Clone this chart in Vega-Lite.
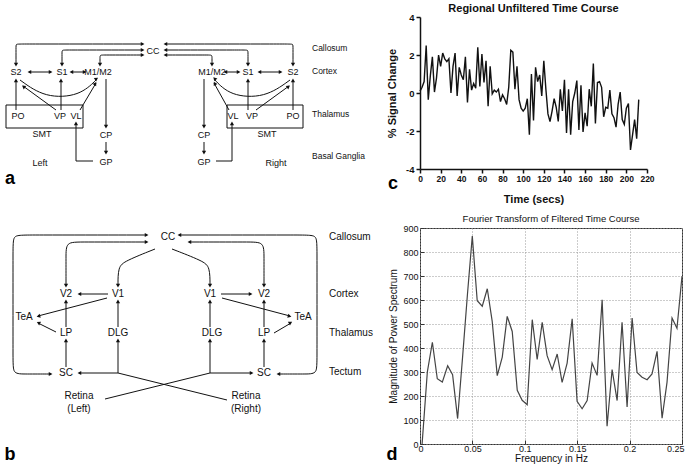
{
"$schema": "https://vega.github.io/schema/vega-lite/v6.json",
"background": "white",
"padding": {"left": 0, "top": 3, "right": 0, "bottom": 0},
"config": {"font": "Liberation Sans", "view": {"stroke": null}},
"bounds": "flush",
"spacing": 35,
"datasets": {
"lab": [
{"t":"CC","x":153,"y":50,"g":"na"},
{"t":"S2","x":16,"y":71,"g":"na"},{"t":"S1","x":62,"y":71,"g":"na"},{"t":"M1/M2","x":98,"y":71,"g":"na"},
{"t":"M1/M2","x":212,"y":71,"g":"na"},{"t":"S1","x":248,"y":71,"g":"na"},{"t":"S2","x":293,"y":71,"g":"na"},
{"t":"PO","x":18,"y":115,"g":"na"},{"t":"VP","x":60,"y":115,"g":"na"},{"t":"VL","x":76,"y":115,"g":"na"},
{"t":"VL","x":233,"y":115,"g":"na"},{"t":"VP","x":252,"y":115,"g":"na"},{"t":"PO","x":293,"y":115,"g":"na"},
{"t":"SMT","x":42,"y":133,"g":"na"},{"t":"SMT","x":267,"y":133,"g":"na"},
{"t":"CP","x":106,"y":134,"g":"na"},{"t":"GP","x":106,"y":161,"g":"na"},
{"t":"CP","x":204,"y":134,"g":"na"},{"t":"GP","x":204,"y":161,"g":"na"},
{"t":"Left","x":40,"y":162,"g":"na"},{"t":"Right","x":276,"y":162,"g":"na"},
{"t":"Callosum","x":312,"y":47,"g":"la"},{"t":"Cortex","x":312,"y":70,"g":"la"},
{"t":"Thalamus","x":312,"y":113,"g":"la"},{"t":"Basal Ganglia","x":312,"y":155,"g":"la"},
{"t":"CC","x":168,"y":236,"g":"nb"},
{"t":"V2","x":66,"y":293,"g":"nb"},{"t":"V1","x":118,"y":293,"g":"nb"},{"t":"V1","x":210,"y":293,"g":"nb"},{"t":"V2","x":264,"y":293,"g":"nb"},
{"t":"TeA","x":24,"y":316,"g":"nb"},{"t":"TeA","x":303,"y":316,"g":"nb"},
{"t":"LP","x":66,"y":332,"g":"nb"},{"t":"DLG","x":118,"y":332,"g":"nb"},{"t":"DLG","x":212,"y":332,"g":"nb"},{"t":"LP","x":264,"y":332,"g":"nb"},
{"t":"SC","x":66,"y":372,"g":"nb"},{"t":"SC","x":264,"y":372,"g":"nb"},
{"t":"Retina","x":79,"y":395,"g":"nb"},{"t":"(Left)","x":79,"y":408,"g":"nb"},
{"t":"Retina","x":246,"y":395,"g":"nb"},{"t":"(Right)","x":246,"y":408,"g":"nb"},
{"t":"Callosum","x":329,"y":236,"g":"lb"},{"t":"Cortex","x":329,"y":293,"g":"lb"},
{"t":"Thalamus","x":329,"y":332,"g":"lb"},{"t":"Tectum","x":329,"y":371,"g":"lb"},
{"t":"a","x":10,"y":178,"g":"L"},{"t":"b","x":10,"y":454,"g":"L"},
{"t":"c","x":393,"y":183,"g":"L"},{"t":"d","x":392,"y":454,"g":"L"}
],
"seg": [
{"p":"a1","i":0,"x":29,"y":71},{"p":"a1","i":1,"x":51,"y":71},
{"p":"a2","i":0,"x":71,"y":71},{"p":"a2","i":1,"x":85,"y":71},
{"p":"a3","i":0,"x":225,"y":71},{"p":"a3","i":1,"x":239,"y":71},
{"p":"a4","i":0,"x":259,"y":71},{"p":"a4","i":1,"x":281,"y":71},
{"p":"a5","i":0,"x":16,"y":109},{"p":"a5","i":1,"x":16,"y":79},
{"p":"a6","i":0,"x":56,"y":109},{"p":"a6","i":1,"x":23,"y":85},
{"p":"a7","i":0,"x":61,"y":109},{"p":"a7","i":1,"x":61,"y":79},
{"p":"a8","i":0,"x":80,"y":109},{"p":"a8","i":1,"x":96,"y":82},
{"p":"a9","i":0,"x":106,"y":78},{"p":"a9","i":1,"x":106,"y":126},
{"p":"a10","i":0,"x":106,"y":141},{"p":"a10","i":1,"x":106,"y":152},
{"p":"a11","i":0,"x":93,"y":160},{"p":"a11","i":1,"x":76,"y":160},{"p":"a11","i":2,"x":76,"y":122},
{"p":"a12","i":0,"x":293,"y":109},{"p":"a12","i":1,"x":293,"y":79},
{"p":"a13","i":0,"x":256,"y":109},{"p":"a13","i":1,"x":289,"y":85},
{"p":"a14","i":0,"x":248,"y":109},{"p":"a14","i":1,"x":248,"y":79},
{"p":"a15","i":0,"x":229,"y":109},{"p":"a15","i":1,"x":214,"y":82},
{"p":"a16","i":0,"x":204,"y":78},{"p":"a16","i":1,"x":204,"y":126},
{"p":"a17","i":0,"x":204,"y":141},{"p":"a17","i":1,"x":204,"y":152},
{"p":"a18","i":0,"x":216,"y":160},{"p":"a18","i":1,"x":232,"y":160},{"p":"a18","i":2,"x":232,"y":122},
{"p":"b1","i":0,"x":108,"y":293},{"p":"b1","i":1,"x":79,"y":293},
{"p":"b2","i":0,"x":221,"y":293},{"p":"b2","i":1,"x":251,"y":293},
{"p":"b3","i":0,"x":107,"y":297},{"p":"b3","i":1,"x":38,"y":315},
{"p":"b4","i":0,"x":222,"y":297},{"p":"b4","i":1,"x":290,"y":315},
{"p":"b5","i":0,"x":66,"y":326},{"p":"b5","i":1,"x":66,"y":300},
{"p":"b6","i":0,"x":264,"y":326},{"p":"b6","i":1,"x":264,"y":300},
{"p":"b7","i":0,"x":56,"y":331},{"p":"b7","i":1,"x":38,"y":322},
{"p":"b8","i":0,"x":274,"y":332},{"p":"b8","i":1,"x":291,"y":322},
{"p":"b9","i":0,"x":66,"y":366},{"p":"b9","i":1,"x":66,"y":339},
{"p":"b10","i":0,"x":264,"y":366},{"p":"b10","i":1,"x":264,"y":339},
{"p":"b11","i":0,"x":118,"y":326},{"p":"b11","i":1,"x":118,"y":300},
{"p":"b12","i":0,"x":210,"y":326},{"p":"b12","i":1,"x":210,"y":300},
{"p":"b13","i":0,"x":105,"y":398},{"p":"b13","i":1,"x":210,"y":372},
{"p":"b14","i":0,"x":210,"y":372},{"p":"b14","i":1,"x":210,"y":339},
{"p":"b15","i":0,"x":210,"y":372},{"p":"b15","i":1,"x":252,"y":372},
{"p":"b16","i":0,"x":227,"y":399},{"p":"b16","i":1,"x":118,"y":372},
{"p":"b17","i":0,"x":118,"y":372},{"p":"b17","i":1,"x":118,"y":339},
{"p":"b18","i":0,"x":118,"y":372},{"p":"b18","i":1,"x":79,"y":372}
],
"crv": [
{"p":"c1","i":0,"x":16,"y":64},{"p":"c1","i":1,"x":16,"y":46},{"p":"c1","i":2,"x":16,"y":43},{"p":"c1","i":3,"x":19,"y":43},{"p":"c1","i":4,"x":143,"y":43},
{"p":"c2","i":0,"x":62,"y":64},{"p":"c2","i":1,"x":62,"y":52},{"p":"c2","i":2,"x":62,"y":49},{"p":"c2","i":3,"x":65,"y":49},{"p":"c2","i":4,"x":143,"y":49},
{"p":"c3","i":0,"x":100,"y":64},{"p":"c3","i":1,"x":100,"y":57},{"p":"c3","i":2,"x":100,"y":54},{"p":"c3","i":3,"x":103,"y":54},{"p":"c3","i":4,"x":143,"y":54},
{"p":"c4","i":0,"x":165,"y":43},{"p":"c4","i":1,"x":290,"y":43},{"p":"c4","i":2,"x":293,"y":43},{"p":"c4","i":3,"x":293,"y":46},{"p":"c4","i":4,"x":293,"y":64},
{"p":"c5","i":0,"x":165,"y":49},{"p":"c5","i":1,"x":245,"y":49},{"p":"c5","i":2,"x":248,"y":49},{"p":"c5","i":3,"x":248,"y":52},{"p":"c5","i":4,"x":248,"y":64},
{"p":"c6","i":0,"x":165,"y":54},{"p":"c6","i":1,"x":209,"y":54},{"p":"c6","i":2,"x":212,"y":54},{"p":"c6","i":3,"x":212,"y":57},{"p":"c6","i":4,"x":212,"y":64},
{"p":"c7","i":0,"x":20,"y":79},{"p":"c7","i":1,"x":45,"y":97},{"p":"c7","i":2,"x":80,"y":95},{"p":"c7","i":3,"x":97,"y":78},
{"p":"c8","i":0,"x":290,"y":79},{"p":"c8","i":1,"x":265,"y":97},{"p":"c8","i":2,"x":230,"y":95},{"p":"c8","i":3,"x":214,"y":78},
{"p":"d1","i":0,"x":147,"y":241},{"p":"d1","i":1,"x":80,"y":241},{"p":"d1","i":2,"x":66,"y":241},{"p":"d1","i":3,"x":66,"y":255},{"p":"d1","i":4,"x":66,"y":285},
{"p":"d2","i":0,"x":189,"y":241},{"p":"d2","i":1,"x":250,"y":241},{"p":"d2","i":2,"x":264,"y":241},{"p":"d2","i":3,"x":264,"y":255},{"p":"d2","i":4,"x":264,"y":285},
{"p":"d3","i":0,"x":155,"y":248},{"p":"d3","i":1,"x":125,"y":260},{"p":"d3","i":2,"x":118,"y":266},{"p":"d3","i":3,"x":118,"y":285},
{"p":"d4","i":0,"x":172,"y":248},{"p":"d4","i":1,"x":203,"y":260},{"p":"d4","i":2,"x":210,"y":266},{"p":"d4","i":3,"x":210,"y":285},
{"p":"d5","i":0,"x":147,"y":234},{"p":"d5","i":1,"x":25,"y":234},{"p":"d5","i":2,"x":13,"y":234},{"p":"d5","i":3,"x":13,"y":246},{"p":"d5","i":4,"x":13,"y":361},{"p":"d5","i":5,"x":13,"y":373},{"p":"d5","i":6,"x":25,"y":373},{"p":"d5","i":7,"x":51,"y":373},
{"p":"d6","i":0,"x":179,"y":234},{"p":"d6","i":1,"x":305,"y":234},{"p":"d6","i":2,"x":317,"y":234},{"p":"d6","i":3,"x":317,"y":246},{"p":"d6","i":4,"x":317,"y":361},{"p":"d6","i":5,"x":317,"y":373},{"p":"d6","i":6,"x":305,"y":373},{"p":"d6","i":7,"x":279,"y":373}
],
"hd": [
{"x":30,"y":71,"a":270},{"x":50,"y":71,"a":90},{"x":72,"y":71,"a":270},{"x":84,"y":71,"a":90},
{"x":226,"y":71,"a":270},{"x":238,"y":71,"a":90},{"x":260,"y":71,"a":270},{"x":280,"y":71,"a":90},
{"x":16,"y":80,"a":0},{"x":24,"y":86,"a":306},{"x":61,"y":80,"a":0},{"x":95,"y":83,"a":31},
{"x":106,"y":125,"a":180},{"x":106,"y":151,"a":180},{"x":76,"y":123,"a":0},
{"x":293,"y":80,"a":0},{"x":288,"y":86,"a":53},{"x":248,"y":80,"a":0},{"x":215,"y":83,"a":331},
{"x":204,"y":125,"a":180},{"x":204,"y":151,"a":180},{"x":232,"y":123,"a":0},
{"x":16,"y":63,"a":180},{"x":142,"y":43,"a":90},{"x":62,"y":63,"a":180},{"x":142,"y":49,"a":90},
{"x":100,"y":63,"a":180},{"x":142,"y":54,"a":90},
{"x":166,"y":43,"a":270},{"x":293,"y":63,"a":180},{"x":166,"y":49,"a":270},{"x":248,"y":63,"a":180},
{"x":166,"y":54,"a":270},{"x":212,"y":63,"a":180},
{"x":96,"y":78,"a":57},{"x":215,"y":78,"a":317},
{"x":80,"y":293,"a":270},{"x":250,"y":293,"a":90},{"x":39,"y":315,"a":255},{"x":289,"y":315,"a":105},
{"x":66,"y":301,"a":0},{"x":264,"y":301,"a":0},{"x":39,"y":322,"a":297},{"x":290,"y":322,"a":60},
{"x":66,"y":340,"a":0},{"x":264,"y":340,"a":0},{"x":118,"y":301,"a":0},{"x":210,"y":301,"a":0},
{"x":210,"y":340,"a":0},{"x":251,"y":372,"a":90},{"x":118,"y":340,"a":0},{"x":80,"y":372,"a":270},
{"x":146,"y":241,"a":90},{"x":66,"y":284,"a":180},{"x":190,"y":241,"a":270},{"x":264,"y":284,"a":180},
{"x":118,"y":284,"a":180},{"x":210,"y":284,"a":180},
{"x":146,"y":234,"a":90},{"x":50,"y":373,"a":90},{"x":180,"y":234,"a":270},{"x":279,"y":373,"a":270}
],
"box": [
{"x":6,"y":104,"x2":83,"y2":127},{"x":227,"y":104,"x2":303,"y2":127}
],
"tc": [
{"t":0,"s":0.1},{"t":2,"s":0.3},{"t":4,"s":0.6},{"t":6,"s":2.5},{"t":8,"s":-0.35},{"t":10,"s":0.9},{"t":12,"s":1.9},{"t":14,"s":0.05},{"t":16,"s":0.8},{"t":18,"s":2.0},
{"t":20,"s":1.4},{"t":22,"s":2.1},{"t":24,"s":1.8},{"t":26,"s":1.65},{"t":28,"s":1.8},{"t":30,"s":0.0},{"t":32,"s":1.4},{"t":34,"s":2.1},{"t":36,"s":-0.15},{"t":38,"s":1.35},
{"t":40,"s":0.95},{"t":42,"s":0.7},{"t":44,"s":1.9},{"t":46,"s":-0.5},{"t":48,"s":1.25},{"t":50,"s":0.15},{"t":52,"s":0.5},{"t":54,"s":0.25},{"t":56,"s":2.4},{"t":58,"s":0.35},
{"t":60,"s":2.05},{"t":62,"s":0.55},{"t":64,"s":1.7},{"t":66,"s":-0.7},{"t":68,"s":1.4},{"t":70,"s":-0.05},{"t":72,"s":0.15},{"t":74,"s":0.05},{"t":76,"s":0.2},{"t":78,"s":-0.45},
{"t":80,"s":-0.1},{"t":82,"s":-0.3},{"t":84,"s":-0.6},{"t":86,"s":0.3},{"t":88,"s":2.25},{"t":90,"s":2.15},{"t":92,"s":0.2},{"t":94,"s":1.4},{"t":96,"s":-0.35},{"t":98,"s":-0.8},
{"t":100,"s":-0.95},{"t":102,"s":-0.8},{"t":104,"s":-0.3},{"t":106,"s":-2.2},{"t":108,"s":1.0},{"t":110,"s":-1.45},{"t":112,"s":1.35},{"t":114,"s":0.6},{"t":116,"s":0.95},{"t":118,"s":-0.15},
{"t":120,"s":1.7},{"t":122,"s":0.2},{"t":124,"s":-1.1},{"t":126,"s":-1.5},{"t":128,"s":-0.95},{"t":130,"s":-0.3},{"t":132,"s":-0.75},{"t":134,"s":-1.5},{"t":136,"s":0.2},{"t":138,"s":-0.95},
{"t":140,"s":0.7},{"t":142,"s":-2.1},{"t":144,"s":0.2},{"t":146,"s":-2.2},{"t":148,"s":-0.45},{"t":150,"s":0.0},{"t":152,"s":0.65},{"t":154,"s":-1.95},{"t":156,"s":0.4},{"t":158,"s":-2.05},
{"t":160,"s":-1.05},{"t":162,"s":-1.75},{"t":164,"s":0.2},{"t":166,"s":-0.7},{"t":168,"s":1.55},{"t":170,"s":-1.6},{"t":172,"s":0.55},{"t":174,"s":0.6},{"t":176,"s":0.3},{"t":178,"s":-1.25},
{"t":180,"s":-0.75},{"t":182,"s":-0.8},{"t":184,"s":0.15},{"t":186,"s":-1.1},{"t":188,"s":-1.3},{"t":190,"s":-1.8},{"t":192,"s":-0.6},{"t":194,"s":0.05},{"t":196,"s":-1.4},{"t":198,"s":-1.65},
{"t":200,"s":-0.8},{"t":202,"s":-0.55},{"t":204,"s":-3.0},{"t":206,"s":-2.2},{"t":208,"s":-1.4},{"t":210,"s":-2.4},{"t":212,"s":-0.35}
],
"ft": [
{"f":0.002,"m":0},{"f":0.007,"m":300},{"f":0.0118,"m":424},{"f":0.0165,"m":272},{"f":0.0213,"m":258},{"f":0.0264,"m":326},{"f":0.0311,"m":289},{"f":0.0359,"m":106},
{"f":0.0407,"m":366},{"f":0.0453,"m":625},{"f":0.0499,"m":866},{"f":0.0546,"m":597},{"f":0.0594,"m":574},{"f":0.0642,"m":647},{"f":0.0689,"m":511},{"f":0.0737,"m":285},
{"f":0.0785,"m":362},{"f":0.0832,"m":532},{"f":0.088,"m":469},{"f":0.0928,"m":224},{"f":0.0975,"m":182},{"f":0.1023,"m":164},{"f":0.1071,"m":518},{"f":0.1118,"m":352},
{"f":0.1166,"m":507},{"f":0.1213,"m":368},{"f":0.1261,"m":310},{"f":0.1309,"m":375},{"f":0.1356,"m":257},{"f":0.1404,"m":337},{"f":0.1452,"m":522},{"f":0.1499,"m":178},
{"f":0.1547,"m":147},{"f":0.1595,"m":181},{"f":0.1642,"m":337},{"f":0.169,"m":286},{"f":0.1738,"m":601},{"f":0.1785,"m":74},{"f":0.1833,"m":310},{"f":0.1881,"m":181},
{"f":0.1928,"m":507},{"f":0.1976,"m":154},{"f":0.2024,"m":525},{"f":0.2071,"m":298},{"f":0.2119,"m":278},{"f":0.2167,"m":268},{"f":0.2214,"m":292},{"f":0.2262,"m":386},
{"f":0.231,"m":108},{"f":0.2357,"m":257},{"f":0.2405,"m":525},{"f":0.2452,"m":482},{"f":0.25,"m":699}
]
},
"hconcat": [
{
"width": 385, "height": 449,
"encoding": {
"x": {"field": "x", "type": "quantitative", "scale": {"domain": [0, 385], "nice": false, "zero": false}, "axis": null},
"y": {"field": "y", "type": "quantitative", "scale": {"domain": [16, 465], "nice": false, "zero": false, "reverse": true}, "axis": null}
},
"layer": [
{"data": {"name": "box"}, "mark": {"type": "rect", "fill": null, "stroke": "#111", "strokeWidth": 1}, "encoding": {"x2": {"field": "x2"}, "y2": {"field": "y2"}}},
{"data": {"name": "seg"}, "mark": {"type": "line", "color": "#111", "strokeWidth": 1, "interpolate": "linear"}, "encoding": {"detail": {"field": "p"}, "order": {"field": "i"}}},
{"data": {"name": "crv"}, "mark": {"type": "line", "color": "#111", "strokeWidth": 1, "interpolate": "basis"}, "encoding": {"detail": {"field": "p"}, "order": {"field": "i"}}},
{"data": {"name": "hd"}, "mark": {"type": "point", "shape": "triangle", "filled": true, "color": "#111", "size": 18, "opacity": 1}, "encoding": {"angle": {"field": "a", "type": "quantitative", "scale": null}}},
{"data": {"name": "lab"}, "transform": [{"filter": "datum.g == 'na'"}], "mark": {"type": "text", "fontSize": 9, "color": "#111", "baseline": "middle", "align": "center"}, "encoding": {"text": {"field": "t"}}},
{"data": {"name": "lab"}, "transform": [{"filter": "datum.g == 'la'"}], "mark": {"type": "text", "fontSize": 8.5, "color": "#111", "baseline": "middle", "align": "left"}, "encoding": {"text": {"field": "t"}}},
{"data": {"name": "lab"}, "transform": [{"filter": "datum.g == 'nb'"}], "mark": {"type": "text", "fontSize": 10, "color": "#111", "baseline": "middle", "align": "center"}, "encoding": {"text": {"field": "t"}}},
{"data": {"name": "lab"}, "transform": [{"filter": "datum.g == 'lb'"}], "mark": {"type": "text", "fontSize": 10, "color": "#111", "baseline": "middle", "align": "left"}, "encoding": {"text": {"field": "t"}}},
{"data": {"name": "lab"}, "transform": [{"filter": "datum.g == 'L'"}], "mark": {"type": "text", "fontSize": 18, "fontWeight": "bold", "color": "#000", "baseline": "middle", "align": "center"}, "encoding": {"text": {"field": "t"}}}
]
},
{
"vconcat": [
{
"width": 227, "height": 152,
"title": {"text": "Regional Unfiltered Time Course", "fontSize": 11, "fontWeight": "bold", "color": "#111", "offset": 0, "dy": 2},
"data": {"name": "tc"},
"mark": {"type": "line", "color": "#111", "strokeWidth": 1.4},
"encoding": {
"x": {"field": "t", "type": "quantitative", "scale": {"domain": [0, 220], "nice": false},
 "axis": {"values": [0,20,40,60,80,100,120,140,160,180,200,220], "labelOverlap": false, "labelFlush": false, "title": "Time (secs)", "grid": false, "domainColor": "#111", "domainWidth": 1.5, "tickColor": "#111", "tickWidth": 1.5, "tickSize": 4, "labelFontSize": 8.5, "labelFontWeight": "bold", "labelColor": "#111", "labelPadding": 1, "titleFontSize": 11, "titleFontWeight": "bold", "titleColor": "#111", "titlePadding": 11}},
"y": {"field": "s", "type": "quantitative", "scale": {"domain": [-4, 4], "nice": false},
 "axis": {"values": [-4,-2,0,2,4], "labelOverlap": false, "labelFlush": false, "title": "% Signal Change", "grid": false, "labelExpr": "datum.value < 0 ? '-' + abs(datum.value) : datum.label", "domainColor": "#111", "domainWidth": 1.5, "tickColor": "#111", "tickWidth": 1.5, "tickSize": 4, "labelFontSize": 9.5, "labelFontWeight": "bold", "labelColor": "#111", "labelPadding": 2, "titleFontSize": 11, "titleFontWeight": "bold", "titleColor": "#111", "titlePadding": 8}}
}
},
{
"width": 262, "height": 216,
"view": {"stroke": "#333", "strokeWidth": 1},
"title": {"text": "Fourier Transform of Filtered Time Course", "fontSize": 9.5, "fontWeight": "normal", "color": "#111", "offset": 1},
"data": {"name": "ft"},
"mark": {"type": "line", "color": "#444", "strokeWidth": 1.2},
"encoding": {
"x": {"field": "f", "type": "quantitative", "scale": {"domain": [0, 0.25], "nice": false},
 "axis": {"values": [0,0.05,0.1,0.15,0.2,0.25], "format": "~g", "labelFlush": true, "labelFlushOffset": 2, "labelOverlap": false, "title": "Frequency in Hz", "domain": false, "grid": true, "gridColor": "#999", "gridDash": [1,2], "gridWidth": 1, "tickColor": "#333", "tickSize": -4, "labelFontSize": 9, "labelColor": "#111", "labelPadding": 4, "titleFontSize": 10, "titleFontWeight": "normal", "titleColor": "#111", "titlePadding": 0}},
"y": {"field": "m", "type": "quantitative", "scale": {"domain": [0, 900], "nice": false},
 "axis": {"values": [0,100,200,300,400,500,600,700,800,900], "labelFlush": false, "labelOverlap": false, "title": "Magnitude of Power Spectrum", "domain": false, "grid": true, "gridColor": "#999", "gridDash": [1,2], "gridWidth": 1, "tickColor": "#333", "tickSize": -4, "labelFontSize": 9, "labelColor": "#111", "labelPadding": 6, "titleFontSize": 10, "titleFontWeight": "normal", "titleColor": "#111", "titlePadding": 4}}
}
}
],
"spacing": 59,
"bounds": "flush"
}
]
}
